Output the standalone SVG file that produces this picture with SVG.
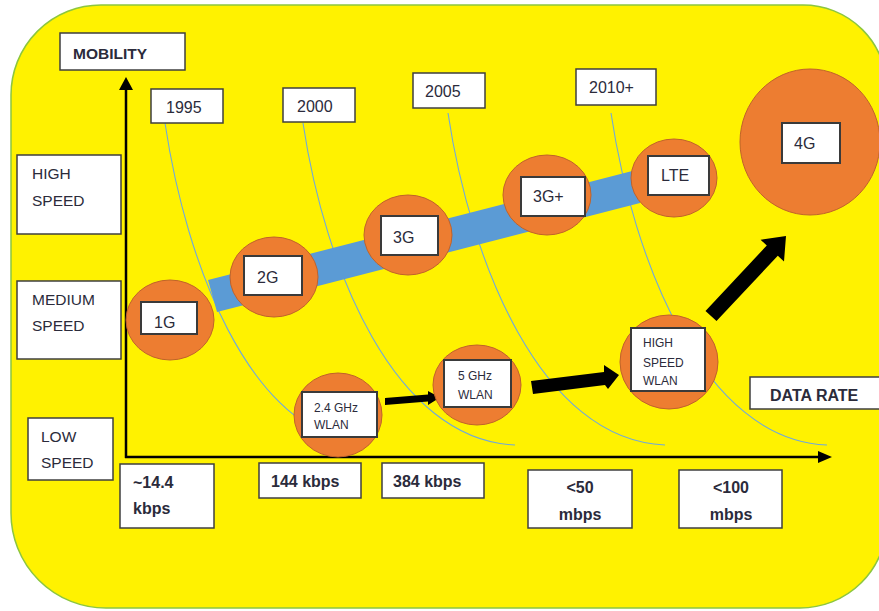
<svg xmlns="http://www.w3.org/2000/svg" width="879" height="611" viewBox="0 0 879 611">
  <style>
    .lbl { font-family: "Liberation Sans", Arial, sans-serif; fill: #2b2b3b; }
    .b { font-weight: bold; }
    .box { fill: #ffffff; stroke: #3f3f3f; stroke-width: 1.5; }
    .nbox { fill: #ffffff; stroke: #3a3a3a; stroke-width: 2; }
    .disc { fill: #ed7d31; stroke: #c0622a; stroke-width: 1; }
    .era { fill: none; stroke: #6fa8dc; stroke-width: 1.1; }
    .axis { stroke: #000; stroke-width: 2.5; fill: none; }
  </style>

  <!-- background panel -->
  <path d="M101,5 H803 A84,84 0 0 1 887,89 V521 A87,87 0 0 1 800,608 H106 A95,95 0 0 1 11,513 V95 A90,90 0 0 1 101,5 Z" fill="#fff200" stroke="#8cc63f" stroke-width="1.5"/>

  <!-- era boundary curves -->
  <g id="eras">
    <path class="era" d="M165,123 C187,270 250,420 345,440"/>
    <path class="era" d="M303,123 C325,270 395,440 515,445"/>
    <path class="era" d="M448,113 C470,260 540,440 665,445"/>
    <path class="era" d="M611,113 C633,260 703,440 827,445"/>
  </g>

  <!-- axes -->
  <g id="axes">
    <line class="axis" x1="126" y1="458" x2="126" y2="88"/>
    <polygon points="119,90 126,77 133,90" fill="#000"/>
    <line class="axis" x1="125" y1="457" x2="820" y2="457"/>
    <polygon points="818,451 832,457 818,463" fill="#000"/>
  </g>

  <!-- connectors -->
  <g id="connectors">
    <polygon points="208,280 640,169 640,203 217,312" fill="#5b9bd5"/>
    <polygon points="385,398 428,394.5 428,391 440,397.5 428,405 428,401.5 385,405" fill="#000"/>
    <polygon points="531,381 604,372 604,365 619,375 608,389 605,385 533,394" fill="#000"/>
    <polygon points="705.5,310.9 766.8,245.5 760.6,239.7 786,236 784,261.5 777.8,255.7 716.5,321.1" fill="#000"/>
  </g>

  <!-- axis labels -->
  <g id="mobility">
    <rect class="box" x="60" y="33" width="125" height="37"/>
    <text class="lbl b" x="73" y="59" font-size="15.5">MOBILITY</text>
  </g>
  <g id="data-rate">
    <rect class="box" x="750" y="377" width="135" height="32"/>
    <text class="lbl b" x="770" y="401" font-size="16">DATA RATE</text>
  </g>

  <!-- speed labels -->
  <g id="high-speed">
    <rect class="box" x="17" y="155" width="104" height="79"/>
    <text class="lbl" x="32" y="179" font-size="15.5">HIGH</text>
    <text class="lbl" x="32" y="206" font-size="15.5">SPEED</text>
  </g>
  <g id="medium-speed">
    <rect class="box" x="17" y="281" width="104" height="78"/>
    <text class="lbl" x="32" y="305" font-size="15.5">MEDIUM</text>
    <text class="lbl" x="32" y="331" font-size="15.5">SPEED</text>
  </g>
  <g id="low-speed">
    <rect class="box" x="28" y="418" width="85" height="62"/>
    <text class="lbl" x="41" y="442" font-size="15.5">LOW</text>
    <text class="lbl" x="41" y="468" font-size="15.5">SPEED</text>
  </g>

  <!-- year labels -->
  <g id="y1995">
    <rect class="box" x="151" y="89" width="72" height="34"/>
    <text class="lbl" x="166" y="113" font-size="16">1995</text>
  </g>
  <g id="y2000">
    <rect class="box" x="283" y="88" width="72" height="34"/>
    <text class="lbl" x="297" y="112" font-size="16">2000</text>
  </g>
  <g id="y2005">
    <rect class="box" x="413" y="73" width="72" height="35"/>
    <text class="lbl" x="425" y="97" font-size="16">2005</text>
  </g>
  <g id="y2010">
    <rect class="box" x="576" y="69" width="80" height="36"/>
    <text class="lbl" x="589" y="93" font-size="16">2010+</text>
  </g>

  <!-- cellular generations -->
  <g id="g1">
    <ellipse class="disc" cx="170" cy="320" rx="44" ry="40"/>
    <rect class="nbox" x="141" y="302" width="56" height="32"/>
    <text class="lbl" x="154" y="328" font-size="16">1G</text>
  </g>
  <g id="g2">
    <ellipse class="disc" cx="274" cy="277" rx="44" ry="40"/>
    <rect class="nbox" x="244" y="256" width="58" height="39"/>
    <text class="lbl" x="257" y="283" font-size="16">2G</text>
  </g>
  <g id="g3">
    <ellipse class="disc" cx="408" cy="235" rx="44" ry="40"/>
    <rect class="nbox" x="381" y="216" width="57" height="39"/>
    <text class="lbl" x="393" y="243" font-size="16">3G</text>
  </g>
  <g id="g3plus">
    <ellipse class="disc" cx="547" cy="195" rx="44" ry="40"/>
    <rect class="nbox" x="521" y="177" width="64" height="39"/>
    <text class="lbl" x="533" y="202" font-size="16">3G+</text>
  </g>
  <g id="lte">
    <ellipse class="disc" cx="674" cy="178" rx="43" ry="39"/>
    <rect class="nbox" x="648" y="156" width="61" height="39"/>
    <text class="lbl" x="661" y="181" font-size="16">LTE</text>
  </g>
  <g id="g4">
    <ellipse class="disc" cx="810" cy="142" rx="70" ry="73"/>
    <rect class="nbox" x="782" y="123" width="58" height="40"/>
    <text class="lbl" x="794" y="149" font-size="16">4G</text>
  </g>

  <!-- wireless LAN -->
  <g id="wlan24">
    <ellipse class="disc" cx="338" cy="415" rx="44" ry="42"/>
    <rect class="nbox" x="302" y="392" width="75" height="45"/>
    <text class="lbl" x="314" y="412" font-size="12">2.4 GHz</text>
    <text class="lbl" x="314" y="429" font-size="12">WLAN</text>
  </g>
  <g id="wlan5">
    <ellipse class="disc" cx="477" cy="385" rx="44" ry="40"/>
    <rect class="nbox" x="444" y="360" width="67" height="47"/>
    <text class="lbl" x="458" y="380" font-size="12">5 GHz</text>
    <text class="lbl" x="458" y="399" font-size="12">WLAN</text>
  </g>
  <g id="wlan-hs">
    <ellipse class="disc" cx="669" cy="362" rx="49" ry="47"/>
    <rect class="nbox" x="631" y="328" width="74" height="63"/>
    <text class="lbl" x="643" y="347" font-size="12">HIGH</text>
    <text class="lbl" x="643" y="367" font-size="12">SPEED</text>
    <text class="lbl" x="643" y="385" font-size="12">WLAN</text>
  </g>

  <!-- data rate labels -->
  <g id="r14">
    <rect class="box" x="120" y="464" width="94" height="64"/>
    <text class="lbl b" x="133" y="488" font-size="16">~14.4</text>
    <text class="lbl b" x="133" y="514" font-size="16">kbps</text>
  </g>
  <g id="r144">
    <rect class="box" x="259" y="463" width="102" height="35"/>
    <text class="lbl b" x="271" y="487" font-size="16">144 kbps</text>
  </g>
  <g id="r384">
    <rect class="box" x="382" y="463" width="102" height="35"/>
    <text class="lbl b" x="393" y="487" font-size="16">384 kbps</text>
  </g>
  <g id="r50">
    <rect class="box" x="528" y="470" width="104" height="58"/>
    <text class="lbl b" x="580" y="493" font-size="16" text-anchor="middle">&lt;50</text>
    <text class="lbl b" x="580" y="520" font-size="16" text-anchor="middle">mbps</text>
  </g>
  <g id="r100">
    <rect class="box" x="679" y="470" width="103" height="58"/>
    <text class="lbl b" x="731" y="493" font-size="16" text-anchor="middle">&lt;100</text>
    <text class="lbl b" x="731" y="520" font-size="16" text-anchor="middle">mbps</text>
  </g>
</svg>
